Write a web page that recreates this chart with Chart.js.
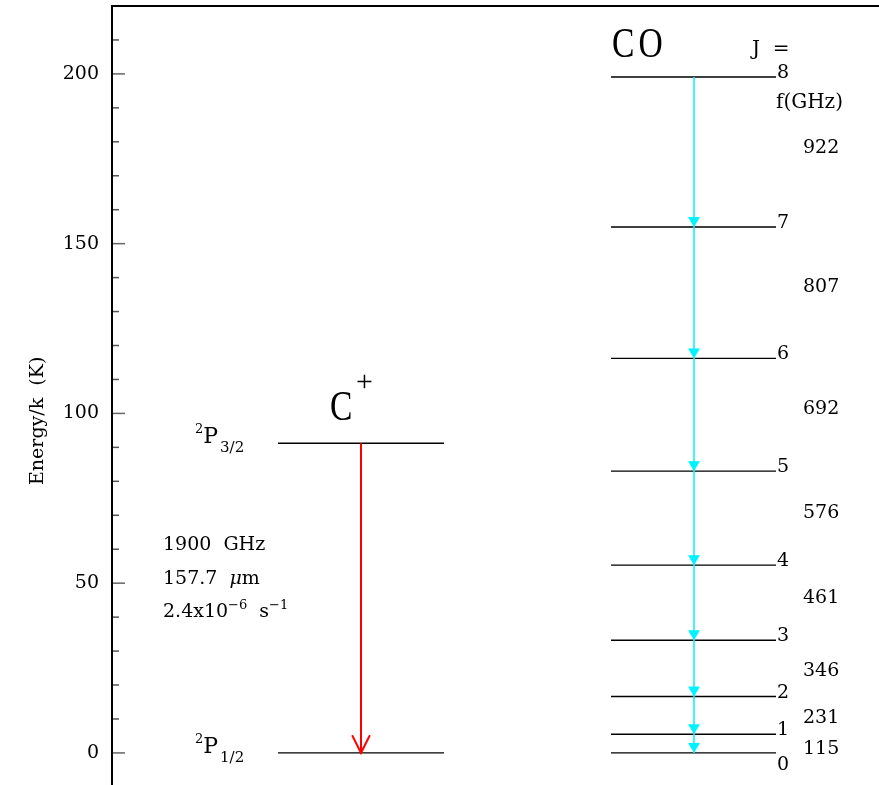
<!DOCTYPE html>
<html>
<head>
<meta charset="utf-8">
<script src="https://cdn.jsdelivr.net/npm/chart.js@4/dist/chart.umd.min.js"></script>
<style>
html,body{margin:0;padding:0;background:#fff;}
#wrap{width:879px;height:785px;position:relative;}
</style>
</head>
<body>
<div id="wrap"><canvas id="c"></canvas></div>
<script>
// ---------------- DATA ----------------
const coJ = [0, 1, 2, 3, 4, 5, 6, 7, 8];
const coEnergyK = [0, 5.5, 16.6, 33.2, 55.3, 83.0, 116.2, 154.9, 199.1];
const coFreqGHz = ['115', '231', '346', '461', '576', '692', '807', '922'];
const cPlusTerms = ['1/2', '3/2'];
const cPlusEnergyK = [0, 91.2];
const cPlusLineInfo = ['1900 GHz', '157.7 μm', '2.4x10−6 s−1'];
const yMajorTicks = [0, 50, 100, 150, 200];
const yMinorTicks = [10, 20, 30, 40, 60, 70, 80, 90, 110, 120, 130, 140, 160, 170, 180, 190, 210];

// ---------------- LAYOUT (not data) ----------------
const LAY = {
  xMin: 0, xMax: 767, yMin: -9.45, yMax: 220,
  cLevelX: [166, 332], cArrowX: 249,
  coLevelX: [499, 664], coArrowX: 582,
  jLabelX: 665, fLabelX: 691,
  freqLabelE: [-0.3, 8.8, 22.7, 44.2, 69.2, 99.9, 135.8, 176.7]
};
const FONT = '"DejaVu Serif", serif';
const RFONT = '"Liberation Serif", "DejaVu Serif", serif';
const CYAN = '#00f2ff';
const RED = '#ff0000';

// arrowhead images (tip at image centre)
function makeCyanHead() {
  const c = document.createElement('canvas');
  c.width = 16; c.height = 24;
  const g = c.getContext('2d');
  g.fillStyle = CYAN;
  g.beginPath(); g.moveTo(2, 2); g.lineTo(14, 2); g.lineTo(8, 12); g.closePath(); g.fill();
  return c;
}
function makeRedHead() {
  const c = document.createElement('canvas');
  c.width = 24; c.height = 40;
  const g = c.getContext('2d');
  g.strokeStyle = RED; g.lineWidth = 2; g.lineCap = 'round';
  g.beginPath(); g.moveTo(12 - 8.5, 3); g.lineTo(12, 20); g.lineTo(12 + 8.5, 3); g.stroke();
  return c;
}
const cyanHead = makeCyanHead();
const redHead = makeRedHead();

function levelData(energies, xr) {
  const out = [];
  energies.forEach(e => { out.push({x: xr[0], y: e}, {x: xr[1], y: e}, {x: xr[1], y: null}); });
  return out;
}

function runs(ctx, x, y, parts) {
  let cx = x;
  for (const p of parts) {
    ctx.font = p.f;
    cx += (p.dx || 0);
    ctx.fillText(p.t, cx, y + (p.dy || 0));
    cx += ctx.measureText(p.t).width;
  }
}

function noPad(s) { s.paddingTop = 0; s.paddingBottom = 0; s.paddingLeft = 0; s.paddingRight = 0; }

const annot = {
  id: 'annot',
  afterDraw(chart) {
    const {ctx, scales: {x, y}} = chart;
    const X = v => x.getPixelForValue(v), Y = v => y.getPixelForValue(v);
    ctx.save();
    // inside tick marks
    ctx.lineWidth = 1.5;
    ctx.strokeStyle = '#555';
    yMinorTicks.forEach(v => { const p = Y(v); ctx.beginPath(); ctx.moveTo(x.left + 1, p); ctx.lineTo(x.left + 7, p); ctx.stroke(); });
    ctx.strokeStyle = '#666';
    yMajorTicks.forEach(v => { const p = Y(v); ctx.beginPath(); ctx.moveTo(x.left + 1, p); ctx.lineTo(x.left + 13, p); ctx.stroke(); });

    ctx.fillStyle = '#000';
    ctx.textAlign = 'left';
    ctx.textBaseline = 'alphabetic';
    const n = `19px ${FONT}`, sup = `13px ${FONT}`;

    // y axis title
    ctx.save();
    ctx.translate(38, Y(97.8));
    ctx.rotate(-Math.PI / 2);
    ctx.textAlign = 'center'; ctx.textBaseline = 'middle';
    ctx.font = n;
    ctx.fillText('Energy/k  (K)', 0, 0);
    ctx.restore();

    // C+ title
    ctx.save();
    ctx.translate(X(218), Y(98.1));
    ctx.scale(0.8, 1);
    ctx.font = `42px ${RFONT}`;
    ctx.fillText('C', 0, 0);
    ctx.restore();
    ctx.font = `30px ${RFONT}`;
    ctx.fillText('+', X(244), Y(98.1) - 29);

    // CO title
    ctx.save();
    ctx.translate(X(500), Y(205));
    ctx.scale(0.8, 1);
    ctx.font = `42px ${RFONT}`;
    ctx.fillText('C', 0, 0);
    ctx.fillText('O', 33, 0);
    ctx.restore();

    // J = , f(GHz)
    ctx.font = `20px ${FONT}`;
    ctx.fillText('J  =', X(640), Y(205.6));
    ctx.fillText('f(GHz)', X(664), Y(190));

    // C+ term labels
    cPlusEnergyK.forEach((e, i) => {
      const by = Y(e);
      runs(ctx, X(83), by, [
        {t: '2', f: sup, dy: -10},
        {t: 'P', f: `22px ${FONT}`, dx: 0},
        {t: cPlusTerms[i], f: `15px ${FONT}`, dy: 9, dx: 2}
      ]);
    });

    // C+ line info
    ctx.font = n;
    ctx.fillText(cPlusLineInfo[0].replace(' ', '  '), X(51), Y(59.8));
    runs(ctx, X(51), Y(49.8), [
      {t: '157.7  ', f: n},
      {t: 'μ', f: `italic 19px ${FONT}`},
      {t: 'm', f: n}
    ]);
    const sp = cPlusLineInfo[2].split(/−| /);
    runs(ctx, X(51), Y(40.1), [
      {t: sp[0], f: n},
      {t: '−' + sp[1], f: sup, dy: -8},
      {t: '  ' + sp[2], f: n},
      {t: '−' + sp[3], f: sup, dy: -8}
    ]);

    // J labels
    ctx.font = n;
    coJ.forEach((j, i) => {
      const by = j === 0 ? Y(coEnergyK[i]) + 17 : Y(coEnergyK[i]) + 1;
      ctx.fillText(String(j), X(LAY.jLabelX), by);
    });
    // frequency labels
    coFreqGHz.forEach((f, i) => {
      ctx.fillText(f, X(LAY.fLabelX), Y(LAY.freqLabelE[i]));
    });
    ctx.restore();
  }
};

const ctxEl = document.getElementById('c');
new Chart(ctxEl, {
  type: 'line',
  data: {
    datasets: [
      {
        label: 'C+ transition',
        data: [{x: LAY.cArrowX, y: cPlusEnergyK[1]}, {x: LAY.cArrowX, y: cPlusEnergyK[0]}],
        borderColor: RED, borderWidth: 2,
        pointRadius: [0, 10], pointStyle: redHead,
        order: 0
      },
      {
        label: 'CO transitions',
        data: coEnergyK.map(e => ({x: LAY.coArrowX, y: e})),
        borderColor: CYAN, borderWidth: 1.5,
        pointRadius: c => (c.dataIndex === coEnergyK.length - 1 ? 0 : 10),
        pointStyle: cyanHead,
        order: 0
      },
      {
        label: 'C+ levels',
        data: levelData(cPlusEnergyK, LAY.cLevelX),
        borderColor: '#000', borderWidth: 1.4, pointRadius: 0, spanGaps: false,
        order: 1
      },
      {
        label: 'CO levels',
        data: levelData(coEnergyK, LAY.coLevelX),
        borderColor: '#000', borderWidth: 1.4, pointRadius: 0, spanGaps: false,
        order: 1
      }
    ]
  },
  options: {
    responsive: true,
    maintainAspectRatio: false,
    animation: false,
    events: [],
    layout: {padding: 0, autoPadding: false},
    plugins: {legend: {display: false}, tooltip: {enabled: false}},
    scales: {
      x: {
        type: 'linear', position: 'top', min: LAY.xMin, max: LAY.xMax,
        afterFit(s) { s.height = 6; noPad(s); },
        ticks: {display: false},
        grid: {display: false, drawTicks: false},
        border: {display: true, color: '#000', width: 2}
      },
      y: {
        type: 'linear', position: 'left', min: LAY.yMin, max: LAY.yMax,
        afterFit(s) { s.width = 112; noPad(s); },
        afterBuildTicks(s) { s.ticks = yMajorTicks.map(v => ({value: v})); },
        ticks: {color: '#000', font: {family: FONT, size: 19}, padding: 13, autoSkip: false, callback: v => String(v)},
        grid: {display: false, drawTicks: false},
        border: {display: true, color: '#000', width: 2}
      }
    }
  },
  plugins: [annot]
});
</script>
</body>
</html>
